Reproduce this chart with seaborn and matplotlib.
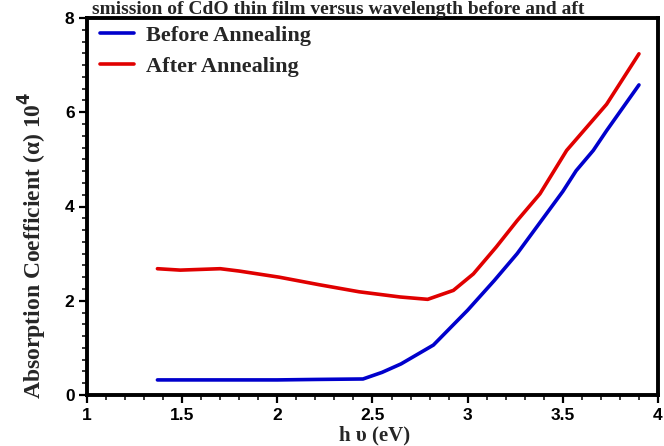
import matplotlib
matplotlib.use("Agg")
import matplotlib.pyplot as plt
import seaborn as sns
import pandas as pd
from matplotlib.ticker import MultipleLocator

# Data
before_x = [1.37, 1.6, 1.8, 2.0, 2.2, 2.45, 2.55, 2.65, 2.82, 3.0, 3.14, 3.26, 3.38, 3.5, 3.57, 3.66, 3.73, 3.9]
before_y = [0.32, 0.32, 0.32, 0.32, 0.33, 0.34, 0.48, 0.66, 1.06, 1.80, 2.43, 3.00, 3.66, 4.32, 4.76, 5.19, 5.61, 6.58]
after_x = [1.37, 1.49, 1.70, 1.80, 2.01, 2.22, 2.43, 2.645, 2.79, 2.925, 3.03, 3.15, 3.26, 3.38, 3.52, 3.73, 3.9]
after_y = [2.68, 2.65, 2.68, 2.63, 2.50, 2.34, 2.19, 2.08, 2.03, 2.22, 2.57, 3.14, 3.70, 4.27, 5.19, 6.17, 7.24]
series_names = ["Before Annealing", "After Annealing"]
colors = ["#0000CC", "#E00000"]
x_ticks = [1, 1.5, 2, 2.5, 3, 3.5, 4]
x_tick_labels = ["1", "1.5", "2", "2.5", "3", "3.5", "4"]
y_ticks = [0, 2, 4, 6, 8]
title = "smission of CdO thin film versus wavelength before and aft"

df = pd.concat([
    pd.DataFrame({"x": before_x, "y": before_y, "s": series_names[0]}),
    pd.DataFrame({"x": after_x, "y": after_y, "s": series_names[1]}),
])

sns.set_style("white")
plt.rcParams["font.family"] = ["Liberation Sans", "DejaVu Sans"]
serif = ["Liberation Serif", "DejaVu Serif"]

fig = plt.figure(figsize=(6.64, 4.46), dpi=100)
ax = fig.add_axes([87/664, 51/446, 571/664, 377/446])

sns.lineplot(data=df, x="x", y="y", hue="s", palette=colors, sort=False,
             linewidth=2.6, ax=ax, estimator=None)

ax.set_xlim(1, 4)
ax.set_ylim(0, 8)
ax.set_xticks(x_ticks)
ax.set_xticklabels(x_tick_labels)
ax.set_yticks(y_ticks)
ax.xaxis.set_minor_locator(MultipleLocator(0.1))
ax.yaxis.set_minor_locator(MultipleLocator(0.25))
ax.tick_params(axis="both", which="major", direction="out", length=6, width=1.6,
               labelsize=12.5, colors="black", pad=3)
ax.tick_params(axis="both", which="minor", direction="out", length=3.5, width=1.3)
ax.tick_params(axis="x", bottom=True, which="both")
ax.tick_params(axis="y", left=True, which="both")
for lab in ax.get_xticklabels() + ax.get_yticklabels():
    lab.set_fontweight("bold")

for sp in ax.spines.values():
    sp.set_linewidth(2.8)
    sp.set_color("black")

ax.set_xlabel("h \u03c5 (eV)", fontsize=15, fontweight="bold", family=serif)
ax.xaxis.label.set_va("center")
ax.xaxis.set_label_coords((375 - 87) / 571, -(435 - 395) / 377)
ax.set_ylabel("Absorption Coefficient (\u03b1) 10$^{\\mathbf{4}}$", fontsize=17,
              fontweight="bold", family=serif)
ax.yaxis.label.set_va("center")
ax.yaxis.set_label_coords(-(87 - 33) / 571, (395 - 245) / 377)

leg = ax.legend(loc="upper left", frameon=False, fontsize=16, handlelength=1.5,
                bbox_to_anchor=(9 / 571, 1 - 3 / 377), borderaxespad=0, borderpad=0.2,
                labelspacing=0.45, handletextpad=0.55)
for t in leg.get_texts():
    t.set_fontweight("bold")
    t.set_family(serif)
for l in leg.get_lines():
    l.set_linewidth(2.6)

fig.text(338 / 664, 1 - 13.5 / 446, title, ha="center", va="baseline", fontsize=14,
         fontweight="bold", family=serif)

fig.savefig("out.png", dpi=100)
